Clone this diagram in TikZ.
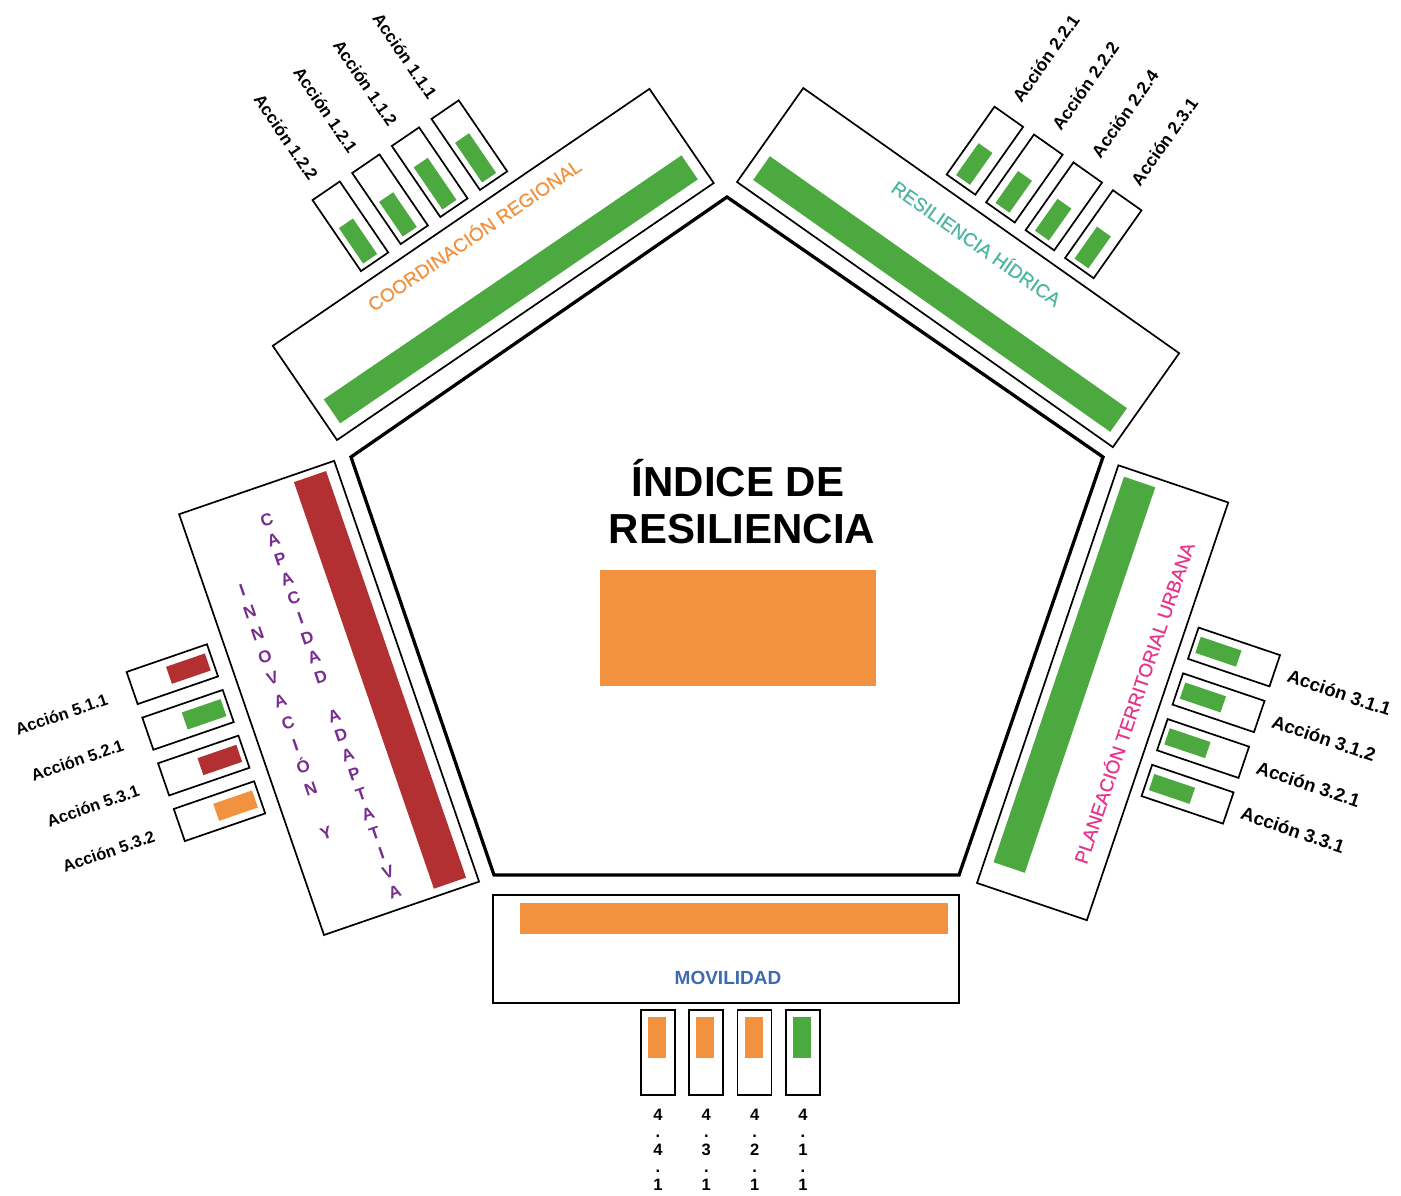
\documentclass[tikz,border=0pt]{standalone}
\usepackage{fontspec}
\setmainfont{Liberation Sans}
\newfontfamily\titulofont[FakeBold=0.5]{Liberation Sans}
\definecolor{verde}{RGB}{76,169,64}
\definecolor{naranja}{RGB}{242,146,62}
\definecolor{rojo}{RGB}{178,48,50}
\definecolor{turquesa}{RGB}{76,182,160}
\definecolor{rosa}{RGB}{232,52,140}
\definecolor{azul}{RGB}{62,106,176}
\definecolor{morado}{RGB}{120,44,145}
\tikzset{
	panel/.style={draw=black, line width=1.7pt},
	caja/.style={draw=black, line width=1.7pt},
	accion/.style={font=\bfseries\fontsize{#1}{#1}\selectfont, inner sep=0pt},
	accion/.default=17,
	titulo/.style={font=\titulofont\fontsize{19}{22}\selectfont, inner sep=0pt},
	letra/.style={font=\bfseries\fontsize{17}{20}\selectfont, text=morado, inner sep=0pt, anchor=base},
	digito/.style={font=\bfseries\fontsize{16.5}{18}\selectfont, inner sep=0pt, anchor=base}
}
\begin{document}
\begin{tikzpicture}[x=1pt, y=1pt]
	\useasboundingbox (0,0) rectangle (1401,-1195);
	\draw [line width=3.3pt] (727,-197) -- (1103,-457) -- (959,-875) -- (494,-875) -- (351,-457) -- cycle;
	\node [font=\bfseries\fontsize{42}{47}\selectfont, inner sep=0pt, anchor=base] (ind1) at (738,-496) {ÍNDICE DE};
	\node [font=\bfseries\fontsize{42}{47}\selectfont, inner sep=0pt, anchor=base] (ind2) at (742,-543) {RESILIENCIA};
	\fill [naranja] (600,-570) rectangle (876,-686);
	
	\begin{scope}[shift={(337,-440)}, rotate=34.3, transform shape]
		\draw [panel] (0,0) rectangle (456,114);
		\fill [verde] (12,12) rectangle (445,41);
		\node [titulo, text=naranja] (coord) at (229,93) {COORDINACIÓN REGIONAL};
		\foreach \n/\h/\k [count=\i from 0] in {1.2.2/174/a122, 1.2.1/173/a121, 1.1.2/182/a112, 1.1.1/179/a111} {
			\draw [caja] ({115+48*\i},126) rectangle +(33,86);
			\fill [verde] ({121+48*\i},131) rectangle ({138+48*\i},\h);
			\node [accion, rotate=-90, anchor=east] (\k) at ({128.5+48*\i},229) {Acción \n};
		}
	\end{scope}
	
	\begin{scope}[shift={(737,-182)}, rotate=-35.2, transform shape]
		\draw [panel] (0,0) rectangle (460,115);
		\fill [verde] (12,11) rectangle (449,40);
		\node [titulo, text=turquesa] (hidr) at (231,89) {RESILIENCIA HÍDRICA};
		\foreach \n/\k [count=\i from 0] in {2.2.1/a221, 2.2.2/a222, 2.2.4/a224, 2.3.1/a231} {
			\draw [caja] ({167+48.3*\i},127) rectangle +(35,83);
			\fill [verde] ({175+48.3*\i},132) rectangle +(17,39);
			\node [accion=17.5, rotate=90, anchor=west] (\k) at ({181+48.3*\i},228) {Acción \n};
		}
	\end{scope}
	
	\begin{scope}[shift={(977,-883)}, rotate=71.3, transform shape]
		\draw [panel] (0,0) rectangle (441,-116);
		\fill [verde] (25,-9) rectangle (432,-42);
		\node [titulo, text=rosa] (plan) at (221,-90) {PLANEACIÓN TERRITORIAL URBANA};
		\foreach \n/\k [count=\i from 0] in {3.1.1/a311, 3.1.2/a312, 3.2.1/a321, 3.3.1/a331} {
			\draw [caja] ({280-48.3*\i},-128) rectangle +(33,-86);
			\fill [verde] ({288-48.3*\i},-133) rectangle +(17,-43);
			\node [accion=18.5, rotate=-90, anchor=west] (\k) at ({296.5-48.3*\i},-228) {Acción \n};
		}
	\end{scope}
	
	\draw [panel] (493,-895) rectangle (959,-1003);
	\fill [naranja] (520,-903) rectangle (948,-934);
	\node [titulo, font=\bfseries\fontsize{19}{22}\selectfont, text=azul] (movi) at (728,-978) {MOVILIDAD};
	\foreach \n/\c [count=\i from 0] in {4/naranja, 3/naranja, 2/naranja, 1/verde} {
		\draw [caja] ({641+48.3*\i},-1010) rectangle +(34,-85);
		\fill [\c] ({648+48.3*\i},-1017) rectangle +(18,-41);
		\node [digito] (d\i a) at ({658+48.3*\i},-1120) {4};
		\node [digito] (d\i b) at ({658+48.3*\i},-1137.5) {.};
		\node [digito] (d\i c) at ({658+48.3*\i},-1155) {\n};
		\node [digito] (d\i d) at ({658+48.3*\i},-1172.5) {.};
		\node [digito] (d\i e) at ({658+48.3*\i},-1190) {1};
	}
	
	\begin{scope}[shift={(324,-935)}, rotate=19, transform shape]
		\draw [panel] (0,0) rectangle (164,445);
		\fill [rojo] (119,8) rectangle (153,438);
		\foreach \ch [count=\i from 0] in {C,A,P,A,C,I,D,A,D,{},A,D,A,P,T,A,T,I,V,A}
			\node [letra] (cap\i) at (81,{405-20.7*\i}) {\ch};
		\foreach \ch [count=\i from 0] in {I,N,N,O,V,A,C,I,Ó,N,{},Y}
			\node [letra] (inn\i) at (35,{347-23.4*\i}) {\ch};
		\foreach \n/\c/\k [count=\i from 0] in {5.1.1/rojo/a511, 5.2.1/verde/a521, 5.3.1/rojo/a531, 5.3.2/naranja/a532} {
			\draw [caja] (-101,{279-48.3*\i}) rectangle +(85,34);
			\fill [\c] (-62,{287-48.3*\i}) rectangle +(41,18);
			\node [accion=16.5, anchor=east] (\k) at (-128,{294-48.3*\i}) {Acción \n};
		}
	\end{scope}
\end{tikzpicture}
\end{document}
